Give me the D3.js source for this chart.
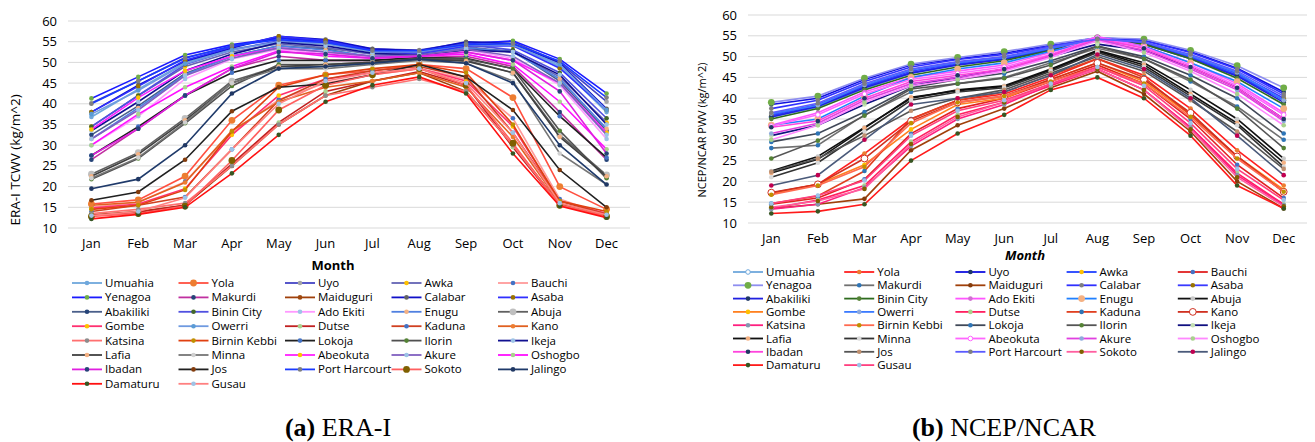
<!DOCTYPE html>
<html lang="en">
<head>
  <meta charset="UTF-8">
  <title>Monthly TCWV / PWV at Nigerian stations</title>
  <script src="https://d3js.org/d3.v7.min.js"></script>
  <style>
    html, body {
      margin: 0;
      background: #fff;
    }
    svg text {
      font-family: "Open Sans", Lato, sans-serif;
      fill: #000;
    }
    .grid line {
      stroke: #d9d9d9;
      stroke-width: 1;
    }
    .tick-label {
      font-size: 13px;
    }
    .legend-label {
      font-size: 11.5px;
    }
    .axis-title {
      font-size: 13px;
    }
    svg text.caption {
      font-family: "Liberation Serif", "Times New Roman", serif;
      font-size: 26px;
    }
  </style>
</head>
<body>
  <div id="chart"></div>

  <script>
    const months = ["Jan", "Feb", "Mar", "Apr", "May", "Jun", "Jul", "Aug", "Sep", "Oct", "Nov", "Dec"];
    const yTicks = [10, 15, 20, 25, 30, 35, 40, 45, 50, 55, 60];

    // legend order (row by row, 5 per row)
    const stations = [
      "Umuahia", "Yola", "Uyo", "Awka", "Bauchi",
      "Yenagoa", "Makurdi", "Maiduguri", "Calabar", "Asaba",
      "Abakiliki", "Binin City", "Ado Ekiti", "Enugu", "Abuja",
      "Gombe", "Owerri", "Dutse", "Kaduna", "Kano",
      "Katsina", "Birnin Kebbi", "Lokoja", "Ilorin", "Ikeja",
      "Lafia", "Minna", "Abeokuta", "Akure", "Oshogbo",
      "Ibadan", "Jos", "Port Harcourt", "Sokoto", "Jalingo",
      "Damaturu", "Gusau"
    ];

    // (a) ERA-I TCWV, one row per station, same order as stations
    const eraValues = [
      [36.8, 43.5, 50.0, 53.2, 55.0, 54.5, 52.6, 52.5, 54.5, 54.3, 49.0, 38.0], // Umuahia
      [15.8, 16.8, 22.5, 36.0, 44.5, 47.0, 48.0, 49.5, 48.5, 41.5, 20.0, 14.5], // Yola
      [40.2, 45.5, 51.2, 53.8, 56.0, 55.2, 53.2, 53.0, 54.8, 55.0, 50.0, 40.5], // Uyo
      [34.5, 42.0, 49.0, 52.5, 54.5, 53.5, 52.0, 52.0, 53.8, 52.5, 46.5, 35.5], // Awka
      [15.0, 16.2, 21.2, 33.0, 41.0, 45.0, 47.0, 48.5, 46.0, 36.5, 17.0, 13.0], // Bauchi
      [41.3, 46.5, 51.8, 54.3, 55.8, 55.0, 53.0, 52.5, 54.5, 55.2, 50.8, 42.5], // Yenagoa
      [26.5, 34.0, 42.0, 48.5, 51.5, 50.5, 50.5, 51.2, 51.5, 49.0, 38.0, 26.5], // Makurdi
      [13.2, 14.0, 15.5, 25.0, 35.0, 42.0, 45.5, 47.5, 43.0, 30.0, 15.8, 13.5], // Maiduguri
      [38.0, 44.5, 50.3, 53.5, 56.3, 55.5, 53.3, 52.8, 55.0, 54.5, 49.8, 38.8], // Calabar
      [38.0, 44.2, 50.5, 53.7, 56.3, 55.3, 52.8, 52.0, 54.0, 54.0, 48.6, 38.5], // Asaba
      [32.5, 39.5, 47.3, 51.5, 54.0, 53.2, 51.2, 51.5, 53.3, 52.8, 45.5, 33.5], // Abakiliki
      [34.5, 42.0, 49.5, 53.0, 55.2, 54.8, 52.7, 52.3, 54.3, 53.0, 47.5, 36.5], // Binin City
      [30.0, 37.0, 46.0, 50.8, 53.2, 52.0, 51.3, 51.5, 53.0, 51.0, 44.5, 31.5], // Ado Ekiti
      [31.5, 39.0, 47.0, 51.5, 54.0, 53.0, 51.5, 51.8, 53.5, 52.5, 46.0, 34.0], // Enugu
      [23.0, 28.2, 36.5, 45.5, 49.0, 49.0, 49.8, 50.8, 50.5, 47.5, 32.5, 22.8], // Abuja
      [14.8, 15.8, 19.5, 32.5, 42.0, 46.0, 47.5, 48.5, 45.5, 34.5, 16.5, 13.5], // Gombe
      [37.5, 43.2, 49.7, 53.0, 55.0, 54.5, 52.6, 52.6, 54.3, 54.2, 49.5, 38.5], // Owerri
      [13.0, 13.8, 15.5, 25.5, 35.5, 43.0, 45.5, 47.8, 44.5, 29.5, 15.5, 12.8], // Dutse
      [14.0, 15.5, 17.5, 29.0, 40.8, 46.0, 48.0, 49.0, 46.5, 33.0, 16.5, 13.3], // Kaduna
      [15.5, 16.2, 21.0, 33.5, 40.5, 44.0, 45.5, 47.5, 44.0, 32.0, 16.0, 13.0], // Kano
      [13.5, 14.5, 16.0, 25.0, 35.0, 42.0, 44.0, 46.0, 43.0, 30.0, 15.5, 12.8], // Katsina
      [14.5, 15.5, 19.2, 33.3, 44.0, 47.0, 48.5, 49.5, 47.5, 35.0, 16.5, 14.0], // Birnin Kebbi
      [27.5, 34.5, 42.0, 47.5, 50.5, 50.5, 50.5, 51.2, 51.0, 48.5, 37.0, 27.0], // Lokoja
      [21.8, 26.8, 35.3, 44.3, 49.5, 49.5, 50.0, 51.0, 50.8, 48.5, 33.5, 22.0], // Ilorin
      [33.5, 40.5, 48.0, 52.0, 54.8, 54.0, 52.2, 51.8, 53.0, 52.5, 47.0, 35.0], // Ikeja
      [22.5, 27.8, 36.0, 45.0, 49.0, 49.5, 50.0, 50.8, 50.3, 47.5, 32.0, 22.5], // Lafia
      [22.0, 27.0, 35.5, 45.0, 48.5, 48.5, 49.5, 50.5, 49.8, 45.5, 28.0, 20.5], // Minna
      [33.8, 41.5, 48.0, 51.5, 53.5, 52.5, 51.5, 51.5, 52.5, 50.5, 45.0, 33.0], // Abeokuta
      [31.5, 38.5, 46.8, 51.0, 53.5, 52.5, 51.5, 51.8, 53.2, 51.5, 45.0, 32.5], // Akure
      [30.0, 37.5, 44.0, 49.0, 52.8, 51.5, 51.0, 51.5, 52.0, 49.5, 40.5, 29.0], // Oshogbo
      [27.5, 34.0, 42.0, 48.5, 52.5, 52.0, 51.0, 51.5, 52.5, 50.5, 43.0, 28.0], // Ibadan
      [16.7, 18.7, 26.5, 38.2, 44.0, 44.8, 47.0, 49.5, 46.5, 38.5, 24.0, 15.0], // Jos
      [40.0, 45.5, 51.0, 54.0, 55.5, 54.8, 52.8, 52.8, 54.3, 54.5, 50.3, 41.5], // Port Harcourt
      [12.8, 13.5, 15.3, 26.3, 38.5, 44.5, 47.0, 48.5, 44.5, 30.5, 15.5, 12.8], // Sokoto
      [19.5, 21.8, 30.0, 42.5, 48.5, 49.0, 49.8, 50.8, 49.8, 45.0, 30.0, 20.5], // Jalingo
      [12.2, 13.3, 15.0, 23.2, 32.5, 40.5, 44.5, 46.5, 42.5, 28.0, 15.3, 12.5], // Damaturu
      [13.0, 14.0, 17.3, 29.0, 40.0, 45.5, 47.5, 48.5, 45.0, 33.0, 16.0, 13.2]  // Gusau
    ];

    // (b) NCEP/NCAR PWV
    const ncepValues = [
      [35.5, 37.8, 42.3, 46.0, 48.0, 49.5, 51.8, 54.0, 53.3, 49.8, 45.8, 39.5], // Umuahia
      [17.2, 19.3, 26.7, 35.0, 39.5, 41.0, 45.0, 49.5, 45.5, 37.5, 27.5, 19.0], // Yola
      [38.5, 40.0, 44.5, 48.0, 49.5, 50.8, 52.8, 54.5, 54.0, 51.2, 47.2, 41.5], // Uyo
      [35.8, 38.2, 42.8, 46.2, 48.2, 49.5, 51.8, 54.0, 53.2, 49.8, 45.5, 39.5], // Awka
      [14.5, 16.0, 20.5, 31.5, 37.5, 40.0, 44.0, 48.0, 43.5, 35.0, 24.0, 16.0], // Bauchi
      [39.0, 40.5, 44.8, 48.2, 49.8, 51.2, 53.0, 54.5, 54.2, 51.5, 47.8, 42.5], // Yenagoa
      [28.0, 28.7, 36.0, 41.5, 43.5, 45.0, 48.5, 52.0, 49.5, 44.0, 38.0, 30.0], // Makurdi
      [13.5, 14.5, 15.8, 27.5, 33.5, 37.5, 42.5, 46.5, 41.0, 32.0, 20.0, 13.5], // Maiduguri
      [37.5, 39.5, 44.0, 47.5, 49.3, 50.5, 52.5, 54.3, 53.8, 51.0, 47.0, 41.0], // Calabar
      [36.0, 38.5, 43.0, 46.5, 48.5, 49.8, 52.0, 54.0, 53.3, 50.0, 46.0, 40.0], // Asaba
      [35.5, 38.0, 42.5, 46.0, 48.0, 49.3, 51.5, 53.8, 53.0, 49.5, 45.3, 39.0], // Abakiliki
      [35.0, 37.5, 42.0, 45.5, 47.5, 49.0, 51.5, 53.8, 53.0, 49.5, 44.8, 38.5], // Binin City
      [33.5, 36.5, 41.5, 45.0, 46.5, 48.0, 51.0, 54.8, 52.5, 48.5, 43.5, 36.5], // Ado Ekiti
      [33.5, 35.0, 40.5, 45.0, 47.0, 48.5, 51.3, 53.8, 52.5, 48.5, 44.0, 37.5], // Enugu
      [22.5, 26.0, 33.0, 40.0, 42.0, 43.0, 47.0, 51.5, 48.5, 42.0, 35.0, 25.5], // Abuja
      [17.0, 19.3, 24.0, 32.5, 38.5, 40.0, 44.5, 48.5, 44.0, 36.0, 26.0, 18.0], // Gombe
      [36.3, 38.3, 43.2, 46.8, 48.6, 49.8, 52.0, 54.2, 53.5, 50.2, 46.2, 39.5], // Owerri
      [13.5, 15.5, 19.0, 29.5, 36.0, 39.0, 43.0, 47.0, 42.0, 33.0, 22.0, 14.5], // Dutse
      [14.7, 16.5, 22.5, 35.0, 39.5, 41.5, 45.5, 49.5, 45.0, 36.0, 26.0, 17.5], // Kaduna
      [17.3, 19.3, 25.5, 34.5, 39.0, 40.5, 44.5, 48.5, 44.5, 36.5, 26.0, 17.5], // Kano
      [13.3, 14.5, 18.5, 28.5, 35.0, 38.5, 43.3, 47.0, 42.0, 33.0, 21.5, 14.3], // Katsina
      [16.8, 19.0, 23.5, 34.0, 39.0, 40.5, 44.0, 47.5, 43.5, 35.5, 25.5, 17.5], // Birnin Kebbi
      [29.5, 31.5, 36.7, 42.5, 44.5, 46.0, 49.0, 52.5, 50.0, 45.5, 40.0, 31.5], // Lokoja
      [25.5, 29.8, 35.8, 42.2, 43.5, 44.8, 48.0, 52.5, 49.5, 44.5, 37.5, 28.0], // Ilorin
      [31.0, 33.5, 38.5, 43.0, 45.0, 47.0, 50.0, 53.0, 51.5, 47.5, 42.5, 35.0], // Ikeja
      [22.0, 25.3, 32.8, 40.2, 41.8, 42.8, 46.8, 51.3, 48.0, 41.0, 34.0, 24.5], // Lafia
      [21.0, 24.5, 32.0, 39.5, 41.5, 42.5, 46.5, 51.0, 47.5, 40.5, 33.5, 23.5], // Minna
      [33.3, 36.0, 41.0, 44.5, 46.0, 47.5, 50.5, 54.5, 52.3, 48.0, 43.0, 36.0], // Abeokuta
      [31.5, 34.0, 39.5, 43.5, 45.0, 46.8, 50.0, 54.0, 51.5, 47.0, 42.0, 34.5], // Akure
      [30.0, 33.5, 39.0, 43.0, 44.5, 46.5, 49.8, 53.8, 51.0, 46.5, 41.0, 33.5], // Oshogbo
      [33.0, 34.5, 40.0, 44.0, 45.5, 47.0, 50.3, 54.3, 52.0, 47.5, 42.5, 35.0], // Ibadan
      [22.3, 25.5, 31.0, 37.0, 40.0, 42.0, 46.0, 50.0, 46.5, 39.5, 32.0, 23.0], // Jos
      [36.5, 38.8, 43.5, 47.0, 48.8, 50.0, 52.3, 54.2, 53.5, 50.5, 46.5, 40.5], // Port Harcourt
      [13.8, 15.3, 18.2, 29.0, 35.5, 39.0, 43.5, 47.0, 42.0, 32.5, 21.0, 14.0], // Sokoto
      [19.0, 21.5, 30.0, 38.5, 40.0, 41.5, 45.5, 50.5, 47.0, 40.0, 31.0, 21.5], // Jalingo
      [12.3, 12.8, 14.5, 25.0, 31.5, 36.0, 42.0, 45.0, 40.0, 31.0, 19.0, 13.5], // Damaturu
      [14.7, 16.6, 20.2, 31.0, 37.0, 39.5, 43.5, 47.5, 43.0, 34.0, 23.0, 15.5]  // Gusau
    ];

    // series colours, same order as stations
    const eraLine = [
      "#6fa8dc", "#ff5040", "#4444c4", "#6464b4", "#ff9a9a",
      "#1a1aff", "#c030a0", "#a0400a", "#1010c8", "#3030ff",
      "#4a5f8a", "#5050e0", "#ff99ff", "#5080e0", "#606060",
      "#ff3070", "#6f9ae0", "#c02020", "#d04020", "#e06020",
      "#ff7070", "#e04010", "#202020", "#505050", "#101090",
      "#404040", "#757575", "#ff20ff", "#8060c0", "#ff10ff",
      "#e020e0", "#202020", "#1a3aff", "#ff6060", "#1f3a6a",
      "#ff1010", "#ff8080"
    ];
    const eraMarker = [
      "#6fa8dc", "#ed7d31", "#a5a5a5", "#ffc000", "#4472c4",
      "#70ad47", "#264478", "#9e480e", "#636363", "#997300",
      "#264478", "#43682b", "#9dc3e6", "#f4b183", "#bfbfbf",
      "#ffc000", "#5b9bd5", "#a9d18e", "#4472c4", "#ed7d31",
      "#8c8c8c", "#bf9000", "#4472c4", "#548235", "#9dc3e6",
      "#f4b183", "#d0d0d0", "#ffc000", "#9dc3e6", "#a9d18e",
      "#264478", "#843c0c", "#7f7f7f", "#7f6000", "#203864",
      "#375623", "#9dc3e6"
    ];
    const ncepLine = [
      "#6fa8dc", "#ff2020", "#1010e0", "#2040ff", "#e02020",
      "#8e8ef0", "#707070", "#a0400a", "#3030ff", "#3a3aff",
      "#2020e0", "#2e6b1e", "#ff55ff", "#2080ff", "#111111",
      "#ff8020", "#3a7aff", "#ff2060", "#e04020", "#d03020",
      "#ff1f7f", "#ff6a50", "#404858", "#555555", "#101080",
      "#111111", "#333333", "#ff66ff", "#e040e0", "#ff88ff",
      "#ff44dd", "#555555", "#5a5aff", "#ff5fa0", "#4a5a7a",
      "#ff1a1a", "#ff3f7f"
    ];
    const ncepMarker = [
      "#ffffff", "#ed7d31", "#203864", "#ffc000", "#4472c4",
      "#70ad47", "#2e75b6", "#843c0c", "#7f7f7f", "#997300",
      "#203864", "#548235", "#d070d0", "#f4b183", "#c9c9c9",
      "#ffc000", "#8faadc", "#a9d18e", "#2e75b6", "#ffffff",
      "#8497b0", "#bf9000", "#2e75b6", "#548235", "#c5e0b4",
      "#f4b183", "#d9d9d9", "#ffffff", "#8faadc", "#a9d18e",
      "#203864", "#c09070", "#7f7f7f", "#7f6000", "#c00050",
      "#375623", "#9dc3e6"
    ];
    const bigMarkersEra = ["Yola", "Sokoto", "Abuja"];
    const bigMarkersNcep = ["Enugu", "Yenagoa", "Kano"];

    const svg = d3.select("#chart")
      .append("svg")
      .attr("width", 1315)
      .attr("height", 442);

    function drawPanel(opt) {
      const x = d3.scaleBand().domain(months).range([opt.left, opt.right]);
      const y = d3.scaleLinear().domain([10, 60]).range([opt.bottom, opt.top]);
      const g = svg.append("g");

      // gridlines
      g.append("g").attr("class", "grid")
        .selectAll("line")
        .data(yTicks)
        .enter().append("line")
        .attr("x1", opt.left).attr("x2", opt.right)
        .attr("y1", d => y(d)).attr("y2", d => y(d));

      // y tick labels
      g.selectAll("text.ylab")
        .data(yTicks)
        .enter().append("text")
        .attr("class", "tick-label")
        .attr("x", opt.left - 11)
        .attr("y", d => y(d))
        .attr("dy", "0.35em")
        .attr("text-anchor", "end")
        .text(d => d);

      // month labels
      g.selectAll("text.xlab")
        .data(months)
        .enter().append("text")
        .attr("class", "tick-label")
        .attr("x", d => x(d) + x.bandwidth() / 2)
        .attr("y", opt.bottom + 20)
        .attr("text-anchor", "middle")
        .text(d => d);

      const line = d3.line()
        .x((d, i) => x(months[i]) + x.bandwidth() / 2)
        .y(d => y(d));

      const series = opt.values.map((vals, i) => ({
        name: stations[i], vals, line: opt.lineColors[i], marker: opt.markerColors[i]
      }));

      const sg = g.selectAll("g.series")
        .data(series)
        .enter().append("g");

      sg.append("path")
        .attr("d", d => line(d.vals))
        .attr("fill", "none")
        .attr("stroke", d => d.line)
        .attr("stroke-width", 1.6);

      sg.selectAll("circle")
        .data(d => d.vals.map(v => ({ v, s: d })))
        .enter().append("circle")
        .attr("cx", (d, i) => x(months[i]) + x.bandwidth() / 2)
        .attr("cy", d => y(d.v))
        .attr("r", d => opt.big.includes(d.s.name) ? 3.4 : 2.3)
        .attr("fill", d => d.s.marker)
        .attr("stroke", d => d.s.marker === "#ffffff" ? d.s.line : "none")
        .attr("stroke-width", 1);

      // axis titles
      g.append("text")
        .attr("class", "axis-title")
        .attr("x", opt.monthX)
        .attr("y", opt.monthY)
        .attr("text-anchor", "middle")
        .style("font-weight", "bold")
        .style("font-style", opt.italic ? "italic" : "normal")
        .text("Month");

      g.append("text")
        .attr("class", "axis-title")
        .attr("transform", `translate(${opt.yTitleX},${opt.yTitleY}) rotate(-90)`)
        .attr("text-anchor", "middle")
        .style("font-size", opt.yTitleSize + "px")
        .text(opt.yTitle);

      // legend
      const lg = g.selectAll("g.legend")
        .data(series)
        .enter().append("g")
        .attr("transform", (d, i) =>
          `translate(${opt.legX + (i % 5) * opt.legDx},${opt.legY + Math.floor(i / 5) * opt.legDy})`);

      lg.append("line")
        .attr("x1", 0).attr("x2", 30)
        .attr("stroke", d => d.line)
        .attr("stroke-width", 1.8);
      lg.append("circle")
        .attr("cx", 15)
        .attr("r", d => opt.big.includes(d.name) ? 3.4 : 2.3)
        .attr("fill", d => d.marker)
        .attr("stroke", d => d.marker === "#ffffff" ? d.line : "none");
      lg.append("text")
        .attr("class", "legend-label")
        .attr("x", 33)
        .attr("dy", "0.35em")
        .text(d => d.name);

      // caption
      const cap = g.append("text")
        .attr("class", "caption")
        .attr("x", opt.capX)
        .attr("y", 436)
        .attr("text-anchor", "middle");
      cap.append("tspan").style("font-weight", "bold").text(opt.capTag);
      cap.append("tspan").text(" " + opt.capText);
    }

    drawPanel({
      left: 68, right: 630, top: 21, bottom: 228,
      values: eraValues, lineColors: eraLine, markerColors: eraMarker, big: bigMarkersEra,
      yTitle: "ERA-I TCWV (kg/m^2)", yTitleX: 20, yTitleY: 160, yTitleSize: 13.5,
      monthX: 333, monthY: 270, italic: false,
      legX: 72, legY: 283, legDx: 106.5, legDy: 14.4,
      capX: 338, capTag: "(a)", capText: "ERA-I"
    });

    drawPanel({
      left: 748, right: 1307, top: 15, bottom: 223,
      values: ncepValues, lineColors: ncepLine, markerColors: ncepMarker, big: bigMarkersNcep,
      yTitle: "NCEP/NCAR PWV (kg/m^2)", yTitleX: 706, yTitleY: 130, yTitleSize: 11,
      monthX: 1025, monthY: 260, italic: true,
      legX: 733, legY: 272, legDx: 111.2, legDy: 13.3,
      capX: 1004, capTag: "(b)", capText: "NCEP/NCAR"
    });
  </script>
</body>
</html>
